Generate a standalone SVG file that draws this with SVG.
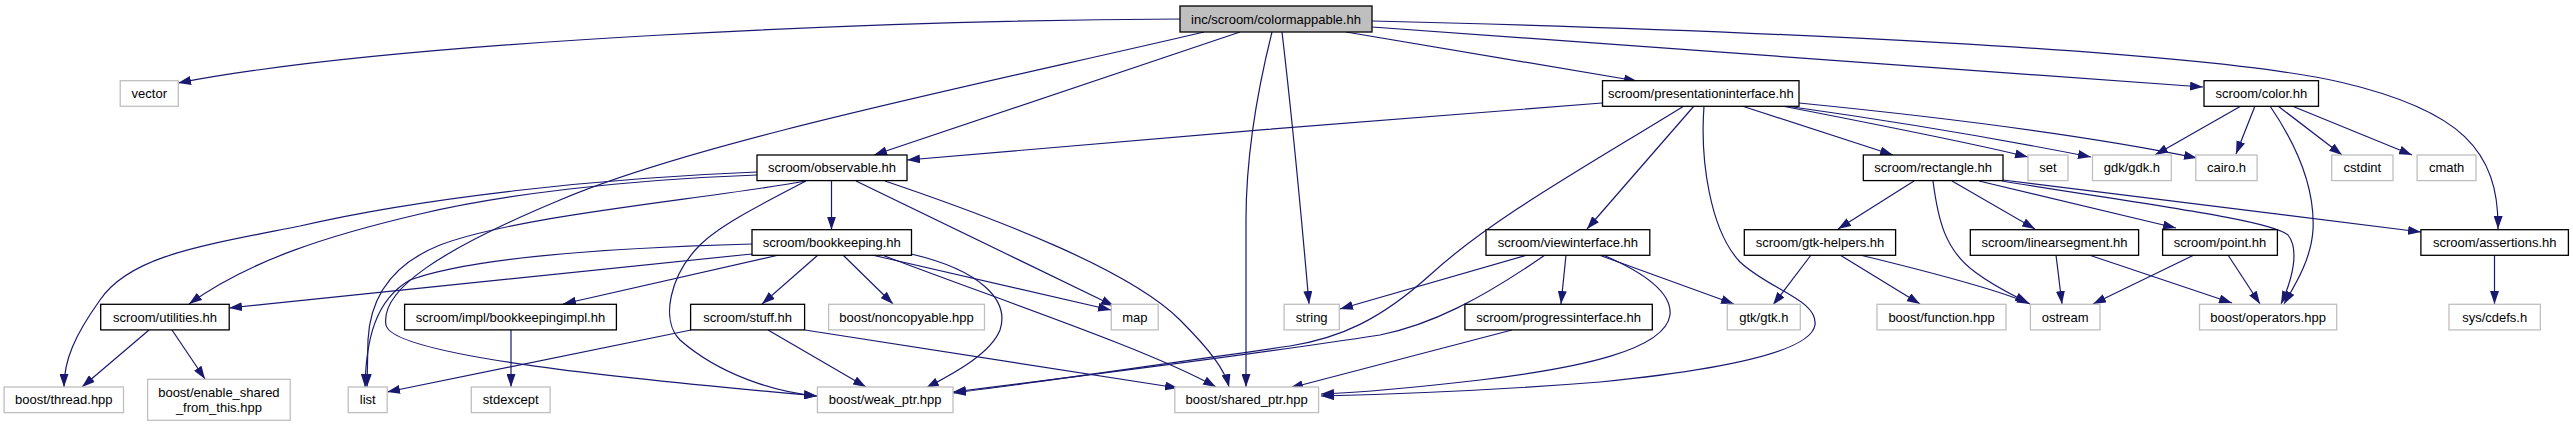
<svg xmlns="http://www.w3.org/2000/svg" width="2573" height="427" viewBox="0 0 2573 427">
<defs>
<marker id="a" viewBox="0 0 13 9" markerWidth="13" markerHeight="9" refX="13" refY="4.5" orient="auto" markerUnits="userSpaceOnUse"><path d="M0,0L13,4.5L0,9z" fill="#191970"/></marker>
<style>
.n rect{fill:#fff;stroke:#000;stroke-width:1.3}
.n.x rect{stroke:#bfbfbf}
.n.t rect{fill:#bfbfbf}
text{font-family:"Liberation Sans",Arial,Helvetica,sans-serif;font-size:13px;text-anchor:middle;fill:#000}
.e path{fill:none;stroke:#191970;stroke-width:1.2;marker-end:url(#a)}
</style>
</defs>
<rect width="2573" height="427" fill="#fff"/>
<g id="edges" class="e">
<path d="M1180,19 C900,20 400,40 178,83"/>
<path d="M1240,32 L874,155"/>
<path d="M1204,32 C1000,80 700,140 560,200 C440,250 380,290 386,325 C392,360 700,385 817,396"/>
<path d="M1346,32 L1637,81"/>
<path d="M1372,27 C1700,50 2000,72 2203,87"/>
<path d="M1372,21 C1750,30 2200,50 2340,82 C2460,110 2499,150 2498,229"/>
<path d="M1282,32 C1290,100 1300,200 1309,304"/>
<path d="M1272,32 C1255,100 1246,160 1246,220 L1246,387"/>
<path d="M1602,103 C1400,118 1100,143 907,160"/>
<path d="M1684,106 C1580,170 1490,220 1430,275 C1380,320 1340,338 1290,346 C1150,366 1020,385 953,393"/>
<path d="M1694,106 L1587,229"/>
<path d="M1704,106 C1700,160 1710,230 1740,262 C1770,290 1818,300 1815,325 C1810,355 1700,372 1600,382 C1500,390 1400,394 1321,396"/>
<path d="M1742,106 L1893,155"/>
<path d="M1782,106 C1880,125 1980,145 2028,157"/>
<path d="M1786,106 C1900,122 2020,143 2091,157"/>
<path d="M1799,103 C1950,118 2100,138 2197,158"/>
<path d="M2241,106 L2155,155"/>
<path d="M2255,106 L2236,154"/>
<path d="M2270,106 C2300,150 2315,190 2313,230 C2311,260 2295,285 2284,304"/>
<path d="M2278,106 L2342,155"/>
<path d="M2292,106 L2412,155"/>
<path d="M757,172 C600,178 420,198 300,226 C200,246 130,256 100,300 C75,335 64,360 64,387"/>
<path d="M757,175 C620,180 500,195 420,214 C330,235 250,260 189,304"/>
<path d="M806,181 C700,200 520,215 440,245 C390,265 370,300 368,340 L367,387"/>
<path d="M806,181 C760,205 720,225 700,245 C670,275 660,320 680,340 C720,375 775,392 817,396"/>
<path d="M831.5,181 L831.5,229.7"/>
<path d="M856,181 L1114,306"/>
<path d="M885,181 C1000,220 1130,270 1180,320 C1210,350 1225,370 1229,387"/>
<path d="M752,244 C600,248 470,258 410,280 C375,300 366,340 365,387"/>
<path d="M752,254 C600,270 400,290 229,308"/>
<path d="M779,255 L563,304"/>
<path d="M818,255 L762,304"/>
<path d="M843,255 L893,304"/>
<path d="M872,255 L1111,310"/>
<path d="M882,255 C1000,300 1150,350 1216,387"/>
<path d="M911,254 C980,270 1010,300 1000,330 C990,355 950,375 926,388"/>
<path d="M691,330 L387,392"/>
<path d="M768,330 L866,387"/>
<path d="M805,330 L1178,388"/>
<path d="M511,330 L511,387"/>
<path d="M149,330 L82,387"/>
<path d="M172,330 L205,379"/>
<path d="M1527,255 L1340,309"/>
<path d="M1545,255 C1480,300 1430,325 1380,335 C1250,355 1050,380 953,392"/>
<path d="M1566,255 L1561,304"/>
<path d="M1599,255 L1734,304"/>
<path d="M1603,255 C1650,275 1672,295 1670,315 C1665,350 1580,368 1480,380 C1420,387 1370,392 1321,394"/>
<path d="M1512,330 L1290,388"/>
<path d="M1811,255 L1773,305"/>
<path d="M1840,255 L1920,304"/>
<path d="M1860,255 C1930,272 2000,290 2030,304"/>
<path d="M1914,181 L1838,229"/>
<path d="M1933,181 C1938,220 1945,250 1975,272 C1995,287 2015,296 2028,303"/>
<path d="M1952,181 L2035,229"/>
<path d="M1979,181 L2176,228"/>
<path d="M2002,181 C2150,205 2270,220 2288,235 C2300,250 2292,280 2281,304"/>
<path d="M2003,180 L2421,232"/>
<path d="M2056,255 L2062,304"/>
<path d="M2089,255 L2232,303"/>
<path d="M2194,255 L2093,304"/>
<path d="M2228,255 L2260,304"/>
<path d="M2494.5,255 L2494.5,304"/>
</g>
<g id="n_top" class="n t"><rect x="1180" y="6" width="192" height="26"/><text x="1276" y="23.5">inc/scroom/colormappable.hh</text></g>
<g id="n_vector" class="n x"><rect x="120.2" y="80.7" width="58.1" height="25.6"/><text x="149.3" y="98">vector</text></g>
<g id="n_presentationinterface" class="n"><rect x="1602.5" y="80.7" width="196.5" height="25.6"/><text x="1700.8" y="98">scroom/presentationinterface.hh</text></g>
<g id="n_color" class="n"><rect x="2204" y="80.7" width="114.5" height="25.6"/><text x="2261.3" y="98">scroom/color.hh</text></g>
<g id="n_observable" class="n"><rect x="757" y="155" width="150" height="25.6"/><text x="832" y="172.3">scroom/observable.hh</text></g>
<g id="n_rectangle" class="n"><rect x="1863.3" y="155" width="139.7" height="25.6"/><text x="1933.2" y="172.3">scroom/rectangle.hh</text></g>
<g id="n_set" class="n x"><rect x="2028" y="155" width="40" height="25.6"/><text x="2048" y="172.3">set</text></g>
<g id="n_gdk" class="n x"><rect x="2092.5" y="155" width="78.8" height="25.6"/><text x="2131.9" y="172.3">gdk/gdk.h</text></g>
<g id="n_cairo" class="n x"><rect x="2195.8" y="155" width="61.3" height="25.6"/><text x="2226.5" y="172.3">cairo.h</text></g>
<g id="n_cstdint" class="n x"><rect x="2331.7" y="155" width="61.3" height="25.6"/><text x="2362.4" y="172.3">cstdint</text></g>
<g id="n_cmath" class="n x"><rect x="2417.1" y="155" width="58.9" height="25.6"/><text x="2446.6" y="172.3">cmath</text></g>
<g id="n_bookkeeping" class="n"><rect x="752" y="229.7" width="159.5" height="25.6"/><text x="831.8" y="247">scroom/bookkeeping.hh</text></g>
<g id="n_viewinterface" class="n"><rect x="1486" y="229.7" width="163.8" height="25.6"/><text x="1567.9" y="247">scroom/viewinterface.hh</text></g>
<g id="n_gtkhelpers" class="n"><rect x="1744.3" y="229.7" width="151.3" height="25.6"/><text x="1820" y="247">scroom/gtk-helpers.hh</text></g>
<g id="n_linearsegment" class="n"><rect x="1970.3" y="229.7" width="168.3" height="25.6"/><text x="2054.5" y="247">scroom/linearsegment.hh</text></g>
<g id="n_point" class="n"><rect x="2162.6" y="229.7" width="114.8" height="25.6"/><text x="2220" y="247">scroom/point.hh</text></g>
<g id="n_assertions" class="n"><rect x="2420.9" y="229.7" width="147.5" height="25.6"/><text x="2494.7" y="247">scroom/assertions.hh</text></g>
<g id="n_utilities" class="n"><rect x="100.7" y="304.3" width="128.5" height="25.6"/><text x="165" y="321.6">scroom/utilities.hh</text></g>
<g id="n_bookkeepingimpl" class="n"><rect x="404.6" y="304.3" width="211.8" height="25.6"/><text x="510.5" y="321.6">scroom/impl/bookkeepingimpl.hh</text></g>
<g id="n_stuff" class="n"><rect x="690.6" y="304.3" width="114" height="25.6"/><text x="747.6" y="321.6">scroom/stuff.hh</text></g>
<g id="n_noncopyable" class="n x"><rect x="828.6" y="304.3" width="155.9" height="25.6"/><text x="906.6" y="321.6">boost/noncopyable.hpp</text></g>
<g id="n_map" class="n x"><rect x="1111.3" y="304.3" width="46.9" height="25.6"/><text x="1134.8" y="321.6">map</text></g>
<g id="n_string" class="n x"><rect x="1284.1" y="304.3" width="55.2" height="25.6"/><text x="1311.7" y="321.6">string</text></g>
<g id="n_progressinterface" class="n"><rect x="1464.9" y="304.3" width="187.4" height="25.6"/><text x="1558.6" y="321.6">scroom/progressinterface.hh</text></g>
<g id="n_gtk" class="n x"><rect x="1727.3" y="304.3" width="73" height="25.6"/><text x="1763.8" y="321.6">gtk/gtk.h</text></g>
<g id="n_function" class="n x"><rect x="1877" y="304.3" width="129" height="25.6"/><text x="1941.5" y="321.6">boost/function.hpp</text></g>
<g id="n_ostream" class="n x"><rect x="2030.4" y="304.3" width="69.6" height="25.6"/><text x="2065.2" y="321.6">ostream</text></g>
<g id="n_operators" class="n x"><rect x="2199.5" y="304.3" width="137.2" height="25.6"/><text x="2268.1" y="321.6">boost/operators.hpp</text></g>
<g id="n_cdefs" class="n x"><rect x="2449" y="304.3" width="91.3" height="25.6"/><text x="2494.7" y="321.6">sys/cdefs.h</text></g>
<g id="n_thread" class="n x"><rect x="4.1" y="387" width="119.4" height="25.6"/><text x="63.8" y="404.3">boost/thread.hpp</text></g>
<g id="n_enable_shared" class="n x"><rect x="147.6" y="379.3" width="142.6" height="41"/><text x="218.9" y="397">boost/enable_shared</text><text x="218.9" y="411.5">_from_this.hpp</text></g>
<g id="n_list" class="n x"><rect x="348.2" y="387" width="39" height="25.6"/><text x="367.7" y="404.3">list</text></g>
<g id="n_stdexcept" class="n x"><rect x="471.3" y="387" width="78.8" height="25.6"/><text x="510.7" y="404.3">stdexcept</text></g>
<g id="n_weak_ptr" class="n x"><rect x="817.4" y="387" width="135.6" height="25.6"/><text x="885.2" y="404.3">boost/weak_ptr.hpp</text></g>
<g id="n_shared_ptr" class="n x"><rect x="1174.8" y="387" width="143.8" height="25.6"/><text x="1246.7" y="404.3">boost/shared_ptr.hpp</text></g>
</svg>
